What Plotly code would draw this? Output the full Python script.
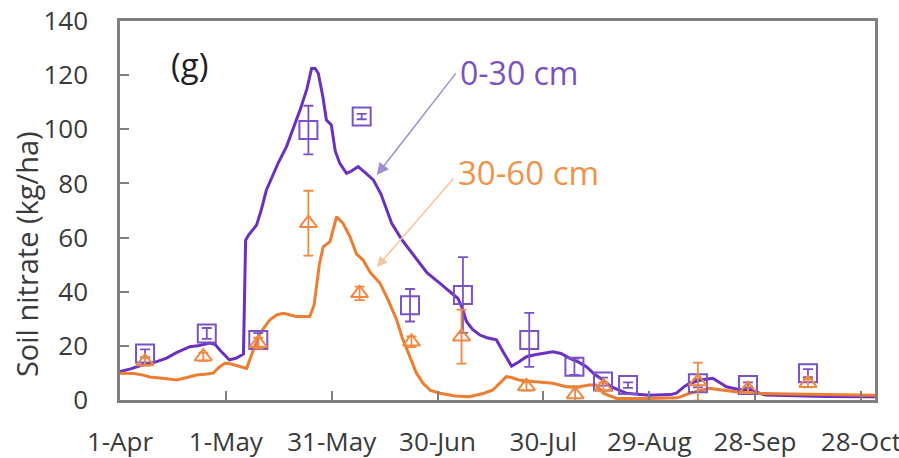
import pandas as pd
import plotly.graph_objects as go

# ---- data -------------------------------------------------------------
season_start = pd.Timestamp("2015-04-01")

# simulated soil nitrate, 0-30 cm (days after 1 April, kg/ha)
sim_day_030 = [0, 3, 6.5, 10, 13.2, 16, 19.8, 22, 25.5, 27, 28.3, 30, 31, 33, 34.5,
               35.0, 35.6, 36.5, 38.7, 40, 41.5, 43, 45, 47.2, 49, 51, 53, 54.3, 55.3,
               56.2, 57.5, 58.5, 59.9, 61, 62.3, 64.2, 65.5, 67.5, 69.5, 71.8, 74, 77,
               80, 84, 87, 90.7, 93, 95.8, 97, 98.2, 100, 102, 104, 106.7, 108.5, 111,
               113, 115.2, 118, 122.7, 125, 127.5, 130, 132.2, 134.5, 136.9, 139, 141.6,
               143.5, 150, 156, 157.7, 160, 161.5, 165, 168, 170, 171.9, 175, 178.5,
               183, 190, 200, 214]
sim_val_030 = [10.5, 11.5, 13, 14, 15.5, 17.5, 19.7, 20, 21, 20.5, 18.5, 16, 14.8, 15.5, 16.6,
               17, 59, 61, 64.6, 70, 77.6, 82, 88, 93.6, 100, 107, 115, 122.5, 122.5,
               120.7, 112, 103.4, 101.6, 92, 87.4, 83.7, 84.5, 86.2, 84, 81.3, 76, 65.3,
               59, 52.3, 47, 43.1, 40.5, 37.5, 34, 29, 26, 24, 23, 22.2, 18, 12.5,
               14, 16, 16.8, 17.8, 17.2, 15.4, 14, 12.3, 9.5, 7.4, 5, 3.7,
               2.5, 1.8, 2, 2.5, 5, 6.2, 7.5, 8, 6.5, 4.9, 4, 3.7,
               1.8, 1.5, 1.3, 1.2]

# simulated soil nitrate, 30-60 cm
sim_day_3060 = [0, 4, 6.6, 8.4, 12, 16, 19, 21.7, 24, 26.4, 28, 29.7, 31, 32.6, 35.9,
                37.8, 39.7, 41, 42.5, 44.5, 46.3, 48, 50, 53.8, 55, 56.5, 57.6, 59.5,
                60.5, 61.4, 63.2, 65.2, 67, 68.9, 71, 73.7, 76, 78.4, 80, 82.2, 84,
                85.9, 88, 90.7, 95, 99, 103, 105.7, 107.6, 109.5, 111, 113, 117, 122.7,
                126.5, 130.3, 133, 135, 137, 140.7, 150, 158, 161.5, 165, 167, 170, 172,
                178, 190, 214]
sim_val_3060 = [9.9, 9.8, 9.2, 8.5, 8, 7.4, 8.3, 9.2, 9.5, 9.9, 12, 13.6, 13.5, 12.9, 11.7,
                18.5, 24.6, 27, 29.6, 31.5, 32, 31.5, 30.8, 30.8, 35, 50, 56.6, 58.5,
                63, 67.7, 65.3, 60.3, 54, 51.7, 47, 43.1, 37, 29.6, 23, 16, 10,
                6.2, 3.5, 2.5, 1.5, 1.2, 2.4, 3.7, 6.2, 8.6, 8.3, 7.4, 6.8, 6.2,
                4.9, 4.9, 5.5, 5.5, 2.5, 0.6, 0.6, 0.8, 2.5, 3.8, 4.3, 3.8, 3.5,
                2.5, 2.2, 1.8]

# measured soil nitrate (mean and error)
obs_day_030 = [7.1, 24.6, 39.2, 53.4, 68.5, 82.2, 97.2, 116, 128.8, 136.9, 144, 163.8, 178, 195]
obs_val_030 = [17.2, 24.6, 22.2, 99.7, 104.7, 35, 38.8, 22.2, 12.3, 6.8, 5.5, 6.2, 5.5, 9.9]
obs_err_030 = [1.5, 2, 2.5, 9, 1, 6, 14, 10, 3, 1.5, 1, 1.5, 1, 1.5]

obs_day_3060 = [7.1, 23.6, 39.2, 53.4, 67.9, 82.6, 96.8, 115.2, 129, 137, 163.8, 178, 195]
obs_val_3060 = [14.2, 16, 21, 65.3, 39.4, 21.5, 23.4, 5, 2, 4.9, 6.8, 4, 6.2]
obs_err_3060 = [1.5, 1.5, 2, 12, 2.5, 2, 10, 1.5, 2.5, 1.5, 7, 1, 1.5]

tick_dates = ["2015-04-01", "2015-05-01", "2015-05-31", "2015-06-30",
              "2015-07-30", "2015-08-29", "2015-09-28", "2015-10-28"]
tick_labels = ["1-Apr", "1-May", "31-May", "30-Jun", "30-Jul", "29-Aug", "28-Sep", "28-Oct"]
y_ticks = [0, 20, 40, 60, 80, 100, 120, 140]


def to_dates(days):
    return season_start + pd.to_timedelta(days, unit="D")


PURPLE = "#6a30c0"
ORANGE = "#ED7D31"
FONT = "Open Sans"

fig = go.Figure()

fig.add_trace(go.Scatter(
    x=to_dates(sim_day_030), y=sim_val_030, mode="lines",
    line=dict(color=PURPLE, width=3), showlegend=False))
fig.add_trace(go.Scatter(
    x=to_dates(sim_day_3060), y=sim_val_3060, mode="lines",
    line=dict(color=ORANGE, width=3), showlegend=False))

fig.add_trace(go.Scatter(
    x=to_dates(obs_day_030), y=obs_val_030, mode="markers",
    marker=dict(symbol="square-open", size=18, color="#7a52c8", line=dict(width=2)),
    error_y=dict(type="data", array=obs_err_030, color="#7a52c8", thickness=1.8, width=5),
    showlegend=False))
fig.add_trace(go.Scatter(
    x=to_dates(obs_day_3060), y=obs_val_3060, mode="markers",
    marker=dict(symbol="triangle-up-open", size=15, color="#ef8840", line=dict(width=2)),
    error_y=dict(type="data", array=obs_err_3060, color="#ef8840", thickness=1.8, width=5),
    showlegend=False))

axis_common = dict(
    showline=True, linecolor="#7f7f7f", linewidth=2.5, mirror=True,
    ticks="inside", ticklen=9, tickwidth=2, tickcolor="#7f7f7f",
    showgrid=False, zeroline=False, automargin=False,
    ticklabeloverflow="allow",
    tickfont=dict(family=FONT, size=26, color="#3a3a3a"),
)

fig.update_xaxes(
    type="date", range=["2015-04-01", "2015-11-01"],
    tickvals=tick_dates, ticktext=tick_labels,
    ticklabelstandoff=17, **axis_common)
fig.update_yaxes(
    range=[0, 140], tickvals=y_ticks,
    ticklabelstandoff=24, **axis_common)

annotations = [
    # y-axis title
    dict(text="Soil nitrate (kg/ha)", xref="paper", yref="paper",
         x=-0.1245, y=0.385, xanchor="center", yanchor="middle",
         textangle=-90, showarrow=False,
         font=dict(family=FONT, size=29, color="#3a3a3a")),
    # panel label
    dict(text="(g)", xref="x", yref="y", x=to_dates([19.8])[0], y=124,
         xanchor="center", yanchor="middle",
         showarrow=False, font=dict(family=FONT, size=33, color="#222222")),
    # layer labels
    dict(text="0-30 cm", xref="x", yref="y", x=to_dates([95.8])[0], y=121,
         xanchor="left", yanchor="middle", showarrow=False,
         font=dict(family=FONT, size=32, color="#7a52c0")),
    dict(text="30-60 cm", xref="x", yref="y", x=to_dates([95.2])[0], y=84,
         xanchor="left", yanchor="middle", showarrow=False,
         font=dict(family=FONT, size=33, color="#f0924a")),
    # pointer arrows
    dict(text="", xref="x", yref="y", axref="x", ayref="y",
         x=to_dates([72.8])[0], y=83.1, ax=to_dates([95.5])[0], ay=121.2,
         showarrow=True, arrowhead=2, arrowsize=1.6, arrowwidth=1.5,
         arrowcolor="#a08ad0"),
    dict(text="", xref="x", yref="y", axref="x", ayref="y",
         x=to_dates([72.8])[0], y=49.1, ax=to_dates([94.9])[0], ay=82.4,
         showarrow=True, arrowhead=2, arrowsize=1.4, arrowwidth=1.5,
         arrowcolor="#f5c49c"),
]

fig.update_layout(
    width=899, height=458,
    margin=dict(l=120, r=24, t=21, b=58, autoexpand=False),
    paper_bgcolor="white", plot_bgcolor="white",
    annotations=annotations,
)

fig.write_html("out.html")
